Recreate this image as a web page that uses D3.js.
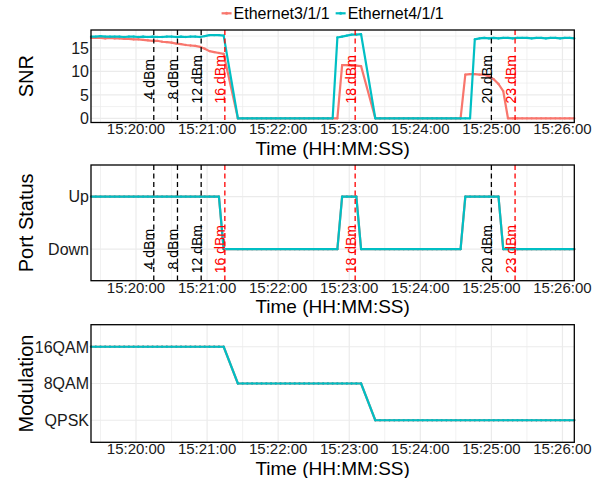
<!DOCTYPE html>
<html>
<head>
<meta charset="utf-8">
<script src="https://cdn.jsdelivr.net/npm/d3@7"></script>
<style>
  body { margin: 0; background: #fff; }
  svg { display: block; font-family: "Liberation Sans", Arial, sans-serif; }
</style>
</head>
<body>
<div id="chart"></div>
<script>
// sample times (4 s polling, no samples while the link re-trains)
const times = [
  "15:19:22","15:19:26","15:19:30","15:19:34","15:19:38","15:19:42","15:19:46","15:19:50","15:19:54","15:19:58",
  "15:20:02","15:20:06","15:20:10","15:20:14","15:20:18","15:20:22","15:20:26","15:20:30","15:20:34","15:20:38",
  "15:20:42","15:20:46","15:20:50","15:20:54","15:20:58","15:21:02","15:21:06","15:21:10","15:21:14",
  "15:21:26","15:21:30","15:21:34","15:21:38","15:21:42","15:21:46","15:21:50","15:21:54","15:21:58",
  "15:22:02","15:22:06","15:22:10","15:22:14","15:22:18","15:22:22","15:22:26","15:22:30","15:22:34","15:22:38",
  "15:22:42","15:22:46","15:22:50","15:22:54","15:22:58","15:23:02","15:23:06","15:23:10",
  "15:23:22","15:23:26","15:23:30","15:23:34","15:23:38","15:23:42","15:23:46","15:23:50","15:23:54","15:23:58",
  "15:24:02","15:24:06","15:24:10","15:24:14","15:24:18","15:24:22","15:24:26","15:24:30","15:24:34","15:24:38",
  "15:24:42","15:24:46","15:24:50","15:24:54","15:24:58","15:25:02","15:25:06","15:25:10","15:25:14","15:25:18",
  "15:25:22","15:25:26","15:25:30","15:25:34","15:25:38","15:25:42","15:25:46","15:25:50","15:25:54","15:25:58",
  "15:26:02","15:26:06","15:26:10"
];
const seriesNames = ["Ethernet3/1/1", "Ethernet4/1/1"];
const snrEth3 = [
  17.1,17.1,17.1,17.0,17.1,17.0,17.0,16.9,16.9,16.8,
  16.8,16.7,16.6,16.5,16.5,16.3,16.2,16.1,15.9,15.8,
  15.6,15.5,15.4,15.2,14.8,14.3,14.1,13.9,13.7,
  0,0,0,0,0,0,0,0,0,
  0,0,0,0,0,0,0,0,0,0,
  0,0,0,11.3,11.3,11.2,11.2,11.1,
  0,0,0,0,0,0,0,0,0,0,
  0,0,0,0,0,0,0,0,0,9.3,
  9.4,9.4,9.3,9.3,8.9,8.3,7.3,5.8,0,0,
  0,0,0,0,0,0,0,0,0,0,
  0,0,0
];
const snrEth4 = [
  17.4,17.4,17.5,17.4,17.4,17.4,17.4,17.3,17.4,17.4,
  17.3,17.4,17.3,17.4,17.3,17.3,17.4,17.4,17.3,17.4,
  17.3,17.4,17.4,17.3,17.5,17.7,17.7,17.7,17.6,
  0,0,0,0,0,0,0,0,0,
  0,0,0,0,0,0,0,0,0,0,
  0,0,17.2,17.4,17.6,17.8,17.8,17.9,
  0,0,0,0,0,0,0,0,0,0,
  0,0,0,0,0,0,0,0,0,0,
  0,16.8,17.0,17.1,17.0,17.1,17.0,17.1,17.1,17.0,
  17.1,17.1,17.1,17.0,17.1,17.1,17.0,17.1,17.1,17.0,
  17.1,17.1,17.0
];
const portStatus = [
  "Up","Up","Up","Up","Up","Up","Up","Up","Up","Up",
  "Up","Up","Up","Up","Up","Up","Up","Up","Up","Up",
  "Up","Up","Up","Up","Up","Up","Up","Up","Down",
  "Down","Down","Down","Down","Down","Down","Down","Down","Down",
  "Down","Down","Down","Down","Down","Down","Down","Down","Down","Down",
  "Down","Down","Down","Up","Up","Up","Up","Down",
  "Down","Down","Down","Down","Down","Down","Down","Down","Down","Down",
  "Down","Down","Down","Down","Down","Down","Down","Down","Down","Up",
  "Up","Up","Up","Up","Up","Up","Up","Down","Down","Down",
  "Down","Down","Down","Down","Down","Down","Down","Down","Down","Down",
  "Down","Down","Down"
];
const modulation = [
  "16QAM","16QAM","16QAM","16QAM","16QAM","16QAM","16QAM","16QAM","16QAM","16QAM",
  "16QAM","16QAM","16QAM","16QAM","16QAM","16QAM","16QAM","16QAM","16QAM","16QAM",
  "16QAM","16QAM","16QAM","16QAM","16QAM","16QAM","16QAM","16QAM","16QAM",
  "8QAM","8QAM","8QAM","8QAM","8QAM","8QAM","8QAM","8QAM","8QAM",
  "8QAM","8QAM","8QAM","8QAM","8QAM","8QAM","8QAM","8QAM","8QAM","8QAM",
  "8QAM","8QAM","8QAM","8QAM","8QAM","8QAM","8QAM","8QAM",
  "QPSK","QPSK","QPSK","QPSK","QPSK","QPSK","QPSK","QPSK","QPSK","QPSK",
  "QPSK","QPSK","QPSK","QPSK","QPSK","QPSK","QPSK","QPSK","QPSK","QPSK",
  "QPSK","QPSK","QPSK","QPSK","QPSK","QPSK","QPSK","QPSK","QPSK","QPSK",
  "QPSK","QPSK","QPSK","QPSK","QPSK","QPSK","QPSK","QPSK","QPSK","QPSK",
  "QPSK","QPSK","QPSK"
];
const portLevels = ["Down", "Up"];
const modLevels = ["QPSK", "8QAM", "16QAM"];
// launch power steps
const powerTimes = ["15:20:15", "15:20:35", "15:20:55", "15:21:15", "15:23:05", "15:25:00", "15:25:20"];
const powerLabels = ["4 dBm", "8 dBm", "12 dBm", "16 dBm", "18 dBm", "20 dBm", "23 dBm"];
const powerLinkDown = [false, false, false, true, true, false, true];

const width = 600;
const height = 478;
const left = 91;
const right = 574.3;
const parse = d3.timeParse("%H:%M:%S");
const t = times.map(parse);

const svg = d3.select("#chart")
  .append("svg")
  .attr("width", width)
  .attr("height", height)
  .attr("viewBox", `0 0 ${width} ${height}`);
svg.append("rect").attr("width", width).attr("height", height).attr("fill", "#fff");

const x = d3.scaleTime().domain(d3.extent(t)).range([left, right]);
const color = d3.scaleOrdinal().domain(seriesNames).range(["#F8766D", "#00BFC4"]);

// snr scale with 5% padding like ggplot
const snrMin = d3.min(snrEth3.concat(snrEth4));
const snrMax = d3.max(snrEth3.concat(snrEth4));
const snrPad = (snrMax - snrMin) * 0.05;
const ySnr = d3.scaleLinear().domain([snrMin - snrPad, snrMax + snrPad]).range([122.5, 30]);
const yPort = d3.scalePoint().domain(portLevels).range([280.7, 165]).padding(0.6);
const yMod = d3.scalePoint().domain(modLevels).range([442.3, 324.7]).padding(0.6);

const snrMinor = ySnr.ticks(4).map(d => d + 2.5).filter(d => d < ySnr.domain()[1]);

function drawPanel(cfg) {
  const y = cfg.y;
  const [bottom, top] = y.range();
  const g = svg.append("g");

  // grid
  g.selectAll(".vminor")
    .data(x.ticks(d3.timeSecond.every(30)).filter(d => d.getSeconds() === 30))
    .join("line")
    .attr("x1", d => x(d)).attr("x2", d => x(d))
    .attr("y1", top).attr("y2", bottom)
    .attr("stroke", "#ebebeb").attr("stroke-width", 0.7);
  g.selectAll(".hminor")
    .data(cfg.minor)
    .join("line")
    .attr("x1", left).attr("x2", right)
    .attr("y1", d => y(d)).attr("y2", d => y(d))
    .attr("stroke", "#ebebeb").attr("stroke-width", 0.7);
  g.selectAll(".vmajor")
    .data(x.ticks(d3.timeMinute.every(1)))
    .join("line")
    .attr("x1", d => x(d)).attr("x2", d => x(d))
    .attr("y1", top).attr("y2", bottom)
    .attr("stroke", "#ebebeb").attr("stroke-width", 1.2);
  g.selectAll(".hmajor")
    .data(cfg.ticks)
    .join("line")
    .attr("x1", left).attr("x2", right)
    .attr("y1", d => y(d)).attr("y2", d => y(d))
    .attr("stroke", "#ebebeb").attr("stroke-width", 1.2);

  // series
  const line = d3.line().x(d => x(d.t)).y(d => y(d.v));
  cfg.series.forEach((values, i) => {
    const rows = values.map((v, j) => ({ t: t[j], v: v }));
    const c = color(seriesNames[i]);
    g.append("path")
      .datum(rows)
      .attr("fill", "none")
      .attr("stroke", c)
      .attr("stroke-width", 2.2)
      .attr("stroke-linejoin", "round")
      .attr("d", line);
    g.append("g")
      .selectAll("circle")
      .data(rows)
      .join("circle")
      .attr("cx", d => x(d.t))
      .attr("cy", d => y(d.v))
      .attr("r", 1.15)
      .attr("fill", c);
  });

  // power step markers
  if (cfg.labelY !== undefined) {
    powerTimes.forEach((p, i) => {
      const px = x(parse(p));
      const c = powerLinkDown[i] ? "#ff0000" : "#000";
      g.append("line")
        .attr("x1", px).attr("x2", px)
        .attr("y1", top).attr("y2", bottom)
        .attr("stroke", c)
        .attr("stroke-width", 1.3)
        .attr("stroke-dasharray", "5,3.5");
      g.append("text")
        .attr("transform", `translate(${px + 0.5},${cfg.labelY}) rotate(-90)`)
        .attr("text-anchor", "middle")
        .style("font-size", "14px")
        .attr("fill", c)
        .text(powerLabels[i]);
    });
  }

  // border
  g.append("rect")
    .attr("x", left).attr("y", top)
    .attr("width", right - left).attr("height", bottom - top)
    .attr("fill", "none")
    .attr("stroke", "#000")
    .attr("stroke-width", 1.3);

  // tick labels
  g.selectAll(".xlab")
    .data(x.ticks(d3.timeMinute.every(1)))
    .join("text")
    .attr("x", d => x(d))
    .attr("y", bottom + 11.8)
    .attr("text-anchor", "middle")
    .style("font-size", "15px")
    .attr("fill", "#1a1a1a")
    .text(d3.timeFormat("%H:%M:%S"));
  g.selectAll(".ylab")
    .data(cfg.ticks)
    .join("text")
    .attr("x", left - 2)
    .attr("y", d => y(d))
    .attr("dy", "0.36em")
    .attr("text-anchor", "end")
    .style("font-size", "16px")
    .attr("fill", "#1a1a1a")
    .text(d => d);

  // axis titles
  g.append("text")
    .attr("x", (left + right) / 2)
    .attr("y", bottom + 32.3)
    .attr("text-anchor", "middle")
    .style("font-size", "19px")
    .text("Time (HH:MM:SS)");
  g.append("text")
    .attr("transform", `translate(33,${(top + bottom) / 2}) rotate(-90)`)
    .attr("text-anchor", "middle")
    .style("font-size", "20px")
    .text(cfg.title);
}

drawPanel({ y: ySnr, ticks: ySnr.ticks(4), minor: snrMinor, series: [snrEth3, snrEth4], title: "SNR", labelY: ySnr(8.3) });
drawPanel({ y: yPort, ticks: portLevels, minor: [], series: [portStatus, portStatus], title: "Port Status", labelY: yPort("Down") });
drawPanel({ y: yMod, ticks: modLevels, minor: [], series: [modulation, modulation], title: "Modulation" });

// legend
const legend = svg.append("g");
let lx = 0;
seriesNames.forEach(name => {
  const item = legend.append("g").attr("transform", `translate(${lx},0)`);
  item.append("line")
    .attr("x1", 0).attr("x2", 10)
    .attr("y1", 13.3).attr("y2", 13.3)
    .attr("stroke", color(name)).attr("stroke-width", 2.2);
  item.append("circle").attr("cx", 5).attr("cy", 13.3).attr("r", 1.5).attr("fill", color(name));
  const txt = item.append("text")
    .attr("x", 12)
    .attr("y", 19)
    .style("font-size", "16px")
    .text(name);
  lx += 12 + txt.node().getComputedTextLength() + 6;
});
const legendWidth = lx - 6;
legend.attr("transform", `translate(${(left + right) / 2 - legendWidth / 2},0)`);
</script>
</body>
</html>
